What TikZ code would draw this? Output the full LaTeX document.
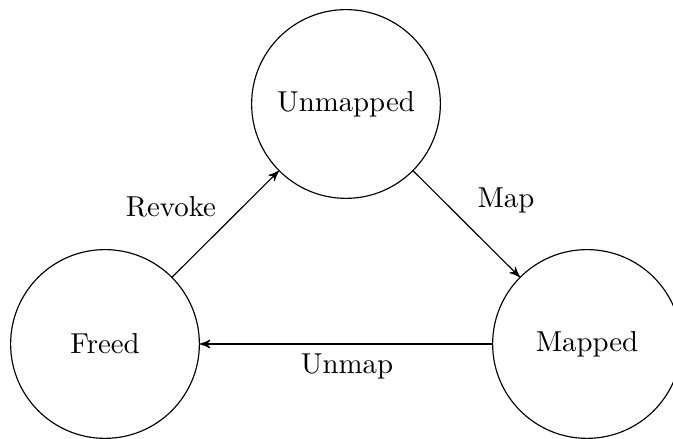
\documentclass[tikz,border=0pt]{standalone}
\usetikzlibrary{arrows}
\begin{document}
\begin{tikzpicture}[x=0.347pt,y=-0.347pt,
  state/.style={draw,circle,inner sep=0pt,minimum size=65.5pt},
  trans/.style={->,>=stealth'}]
\useasboundingbox (0,0) rectangle (673,439);
\node[state] (U) at (346,104) {Unmapped};
\node[state] (F) at (105,344) {Freed};
\node[state] (M) at (587,344) {Mapped};
\draw[trans] (F) -- (U);
\draw[trans] (U) -- (M);
\draw[trans] (M) -- (F);
\node (lr) at (171,207) {Revoke};
\node (lm) at (506,200) {Map};
\node (lu) at (347,366) {Unmap};
\end{tikzpicture}
\end{document}
